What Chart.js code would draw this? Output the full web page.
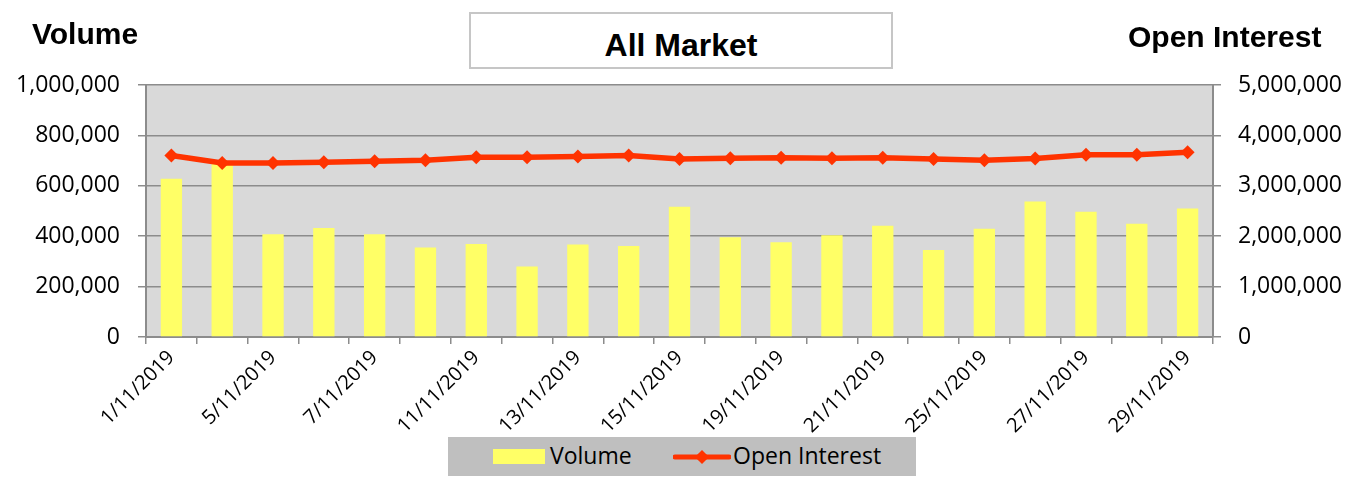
<!DOCTYPE html>
<html><head><meta charset="utf-8">
<script src="https://cdn.jsdelivr.net/npm/chart.js@4"></script>
<style>
html,body{margin:0;padding:0;background:#fff;}
#wrap{position:relative;width:1346px;height:478px;overflow:hidden;}
canvas{position:absolute;left:0;top:0;}
.t{position:absolute;font-family:'Liberation Sans',Arial,sans-serif;font-weight:bold;color:#000;white-space:nowrap;font-size:30px;line-height:30px;}
#box{position:absolute;left:469px;top:12px;width:420px;height:53px;border:2px solid #c6c6c6;background:#fff;font-family:'Liberation Sans',Arial,sans-serif;font-weight:bold;font-size:32px;color:#000;}
#box span{position:absolute;left:0;right:0;top:15px;text-align:center;line-height:32px;}
#legend{position:absolute;left:448px;top:437px;width:468px;height:39px;background:#bfbfbf;font-family:'Open Sans',sans-serif;font-size:23px;line-height:23px;color:#000;}
#legend .sw{position:absolute;left:45px;top:12px;width:52px;height:15px;background:#ffff66;}
#legend .tx{position:absolute;top:7px;white-space:nowrap;}
#legend svg{position:absolute;left:225px;top:9px;}
</style></head><body>
<div id="wrap">
<canvas id="c" width="1346" height="478"></canvas>
<div class="t" style="left:32px;top:19px;">Volume</div>
<div class="t" style="left:1128px;top:22px;">Open Interest</div>
<div id="box"><span>All Market</span></div>
<div id="legend">
  <div class="sw"></div><div class="tx" style="left:102px;">Volume</div>
  <svg width="58" height="22" viewBox="0 0 58 22"><line x1="2" y1="11" x2="56" y2="11" stroke="#ff3300" stroke-width="5" stroke-linecap="round"/><rect x="24" y="6" width="10" height="10" fill="#ff3300" transform="rotate(45 29 11)"/></svg>
  <div class="tx" style="left:285px;">Open Interest</div>
</div>
</div>
<script>
const categories = ['1/11/2019','4/11/2019','5/11/2019','6/11/2019','7/11/2019','8/11/2019','11/11/2019','12/11/2019','13/11/2019','14/11/2019','15/11/2019','18/11/2019','19/11/2019','20/11/2019','21/11/2019','22/11/2019','25/11/2019','26/11/2019','27/11/2019','28/11/2019','29/11/2019'];
const volume = [628000,690000,408000,433000,408000,355000,369000,280000,367000,361000,517000,396000,376000,404000,441000,345000,430000,538000,497000,449000,510000];
const openInterest = [3600000,3452000,3450000,3466000,3486000,3506000,3566000,3566000,3579000,3600000,3533000,3546000,3559000,3546000,3559000,3533000,3506000,3540000,3618000,3618000,3665000];
const volumeTicks = [0,200000,400000,600000,800000,1000000];
const oiTicks = [0,1000000,2000000,3000000,4000000,5000000];

const fmt = v => Number(v).toLocaleString('en-US');
const GRID = '#8c8c8c';

const plotBg = {
  id:'plotBg',
  beforeDraw(chart){
    const {ctx, chartArea:a} = chart;
    ctx.save(); ctx.fillStyle='#d9d9d9';
    ctx.fillRect(a.left,a.top,a.right-a.left,a.bottom-a.top);
    ctx.restore();
  }
};

Chart.defaults.font.family = "'Open Sans', sans-serif";
Chart.defaults.color = '#000';

new Chart(document.getElementById('c'), {
  data: {
    labels: categories,
    datasets: [
      {type:'line', label:'Open Interest', data:openInterest, yAxisID:'y2', order:0,
       borderColor:'#ff3300', backgroundColor:'#ff3300', borderWidth:5.5,
       pointStyle:'rectRot', pointRadius:7, pointHoverRadius:7, pointBorderWidth:0, tension:0},
      {type:'bar', label:'Volume', data:volume, yAxisID:'y', order:1,
       backgroundColor:'#ffff66', barPercentage:0.42, categoryPercentage:1.0}
    ]
  },
  options: {
    responsive:false, animation:false,
    layout:{padding:{top:85, left:0, right:0, bottom:0}},
    plugins:{legend:{display:false}, tooltip:{enabled:false}},
    scales:{
      x:{
        offset:true,
        grid:{offset:true, drawOnChartArea:false, color:GRID, lineWidth:1.5, tickLength:7},
        border:{color:GRID, width:2},
        ticks:{autoSkip:false, maxRotation:45, minRotation:45, padding:2,
          font:{size:20}, color:'#000',
          callback:(v,i)=> i%2===0 ? categories[i] : ''},
        afterFit(s){ s.height = 141; }
      },
      y:{
        position:'left', min:0, max:1000000,
        afterBuildTicks(s){ s.ticks = volumeTicks.map(v=>({value:v})); },
        grid:{color:GRID, lineWidth:1.5, tickLength:8},
        border:{color:GRID, width:2},
        ticks:{padding:18, font:{size:23}, color:'#000', callback:v=>fmt(v)},
        afterFit(s){ s.width = 146; }
      },
      y2:{
        position:'right', min:0, max:5000000,
        afterBuildTicks(s){ s.ticks = oiTicks.map(v=>({value:v})); },
        grid:{drawOnChartArea:false, color:GRID, lineWidth:1.5, tickLength:8},
        border:{color:GRID, width:2},
        ticks:{padding:17, font:{size:23}, color:'#000', callback:v=>fmt(v)},
        afterFit(s){ s.width = 133; }
      }
    }
  },
  plugins:[plotBg]
});
</script>
</body></html>
